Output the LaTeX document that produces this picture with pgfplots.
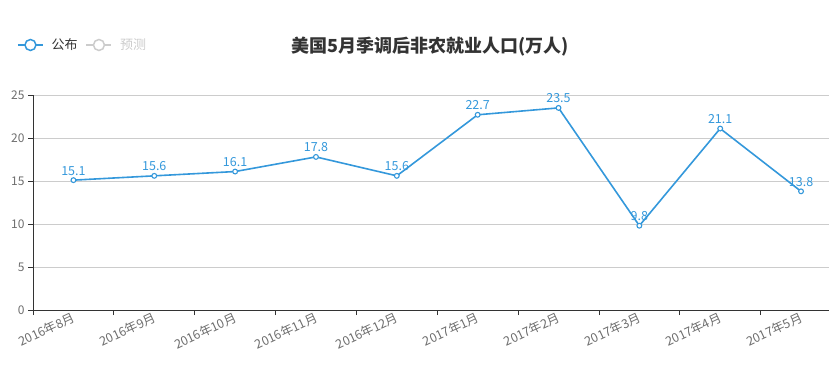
\documentclass[border=0pt]{standalone}
\usepackage{fontspec}
\setmainfont{Noto Sans CJK SC}
\usepackage{pgfplots}
\pgfplotsset{compat=1.18}
\definecolor{ser}{RGB}{52,152,219}
\definecolor{axc}{RGB}{51,51,51}
\definecolor{lab}{RGB}{110,110,110}
\definecolor{grd}{RGB}{204,204,204}
\definecolor{off}{RGB}{204,204,204}
\begin{document}
\begin{tikzpicture}[x=1pt,y=1pt]
\useasboundingbox (0,0) rectangle (829,383);
\begin{axis}[
  at={(33pt,73pt)}, anchor=south west,
  scale only axis, width=796pt, height=215pt,
  xmin=-0.5, xmax=9.346, ymin=0, ymax=25,
  axis lines*=left,
  axis line style={axc, line width=0.8pt},
  xtick={0,...,9},
  xticklabels={2016年8月,2016年9月,2016年10月,2016年11月,2016年12月,2017年1月,2017年2月,2017年3月,2017年4月,2017年5月},
  major x tick style={draw=none},
  minor xtick={-0.5,0.5,...,8.5},
  ytick={0,5,...,25},
  tick align=outside,
  major tick length=5pt, minor tick length=5pt,
  tick style={axc, line width=0.8pt},
  ymajorgrids, grid style={grd, line width=0.7pt},
  ticklabel style={font=\fontsize{12}{14}\selectfont, text=lab},
  xticklabel style={rotate=25, anchor=east, xshift=3pt, yshift=-2pt, font=\fontsize{12.5}{14}\selectfont},
  /pgf/number format/assume math mode=true,
  clip=false,
  legend style={at={(-0.0201,1.2326)}, anchor=west, draw=none, fill=none,
    font=\fontsize{13}{15}\selectfont, inner sep=0pt, column sep=6pt},
  legend columns=2,
  legend cell align=left,
]
\addplot[ser, line width=1.6pt, mark=*, mark size=2.4pt,
  mark options={fill=white, draw=ser, line width=1.1pt},
  nodes near coords, point meta=y,
  nodes near coords style={text=ser, font=\fontsize{12.5}{14}\selectfont, anchor=south, yshift=1pt,
    /pgf/number format/fixed, /pgf/number format/precision=1, /pgf/number format/fixed zerofill, /pgf/number format/assume math mode=true},
  forget plot]
coordinates {(0,15.1) (1,15.6) (2,16.1) (3,17.8) (4,15.6) (5,22.7) (6,23.5) (7,9.8) (8,21.1) (9,13.8)};
\addlegendimage{legend image code/.code={\draw[ser, line width=1.5pt] (0pt,0pt) -- (25pt,0pt); \draw[ser, line width=1.5pt, fill=white] (12.5pt,0pt) circle (5.5pt);}}
\addlegendentry{\textcolor{axc}{公布}}
\addlegendimage{legend image code/.code={\draw[off, line width=1.5pt] (0pt,0pt) -- (25pt,0pt); \draw[off, line width=1.5pt, fill=white] (12.5pt,0pt) circle (5.5pt);}}
\addlegendentry{\textcolor{off}{预测}}
\end{axis}
\node[font=\fontsize{18}{20}\selectfont\bfseries, text=axc] at (430,336) {美国5月季调后非农就业人口(万人)};
\end{tikzpicture}
\end{document}
